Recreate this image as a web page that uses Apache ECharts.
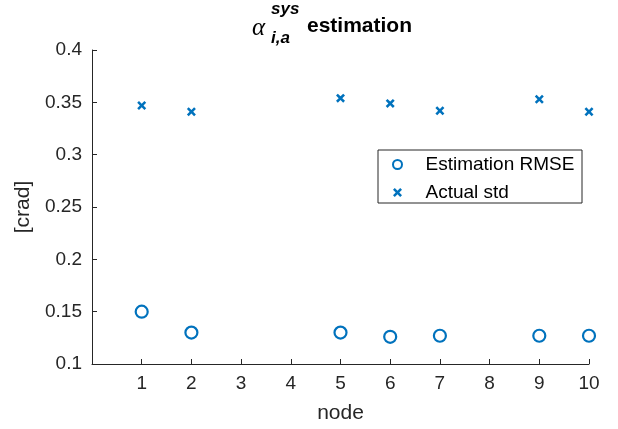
<!DOCTYPE html>
<html>
<head>
<meta charset="utf-8">
<script src="https://cdn.jsdelivr.net/npm/echarts@6/dist/echarts.min.js"></script>
<style>html,body{margin:0;padding:0;background:#fff}#c{width:618px;height:429px}</style>
</head>
<body>
<div id="c"></div>
<script>
const nodes = [1, 2, 5, 6, 7, 9, 10];
const rmse = [0.150, 0.130, 0.130, 0.126, 0.127, 0.127, 0.127];
const actualStd = [0.347, 0.341, 0.354, 0.349, 0.342, 0.353, 0.341];
const seriesNames = ['Estimation RMSE', 'Actual std'];
const xLabel = 'node';
const yLabel = '[crad]';

const FONT = "'Liberation Sans', Arial, Helvetica, sans-serif";
const TXT = '#262626';
const BLUE = '#0072BD';
const crossPath = 'path://M0,2 L2,0 L5,3 L8,0 L10,2 L7,5 L10,8 L8,10 L5,7 L2,10 L0,8 L3,5 Z';

const chart = echarts.init(document.getElementById('c'), null, {renderer: 'canvas'});
chart.setOption({
  backgroundColor: '#fff',
  animation: false,
  grid: {left: 92, right: 29, top: 50, bottom: 65, containLabel: false},
  xAxis: {
    type: 'value', min: 0, max: 10, interval: 1,
    name: xLabel, nameLocation: 'middle', nameGap: 39,
    nameTextStyle: {color: TXT, fontSize: 21, fontFamily: FONT},
    axisLine: {show: true, lineStyle: {color: TXT, width: 1}},
    axisTick: {show: true, inside: true, length: 5, lineStyle: {color: TXT}},
    axisLabel: {color: TXT, fontSize: 19, fontFamily: FONT, margin: 10,
      formatter: v => (v === 0 ? '' : String(v))},
    splitLine: {show: false}
  },
  yAxis: {
    type: 'value', min: 0.1, max: 0.4, interval: 0.05,
    name: yLabel, nameLocation: 'middle', nameGap: 52,
    nameTextStyle: {color: TXT, fontSize: 21, fontFamily: FONT},
    axisLine: {show: true, lineStyle: {color: TXT, width: 1}},
    axisTick: {show: true, inside: true, length: 5, lineStyle: {color: TXT}},
    axisLabel: {color: TXT, fontSize: 19, fontFamily: FONT, margin: 10,
      formatter: v => String(parseFloat(v.toFixed(2)))},
    splitLine: {show: false}
  },
  legend: {
    orient: 'vertical', left: 392, top: 155, padding: 0,
    itemWidth: 46, itemHeight: 9, itemGap: 9,
    textStyle: {color: '#000', fontSize: 19, fontFamily: FONT, lineHeight: 18},
    data: seriesNames
  },
  graphic: [
    {type: 'rect', shape: {x: 378, y: 150, width: 204, height: 53}, style: {fill: 'none', stroke: TXT, lineWidth: 1}, z: 100, silent: true},
    {type: 'text', left: 252, top: 16, style: {text: 'α', font: "italic 25px 'Liberation Serif', 'DejaVu Serif', serif", fill: '#000'}},
    {type: 'text', left: 271, top: 1, style: {text: 'sys', font: "italic bold 17px " + FONT, fill: '#000'}},
    {type: 'text', left: 271, top: 30, style: {text: 'i,a', font: "italic bold 17px " + FONT, fill: '#000'}},
    {type: 'text', left: 307, top: 16, style: {text: 'estimation', font: "bold 21px " + FONT, fill: '#000'}}
  ],
  series: [
    {
      name: seriesNames[0], type: 'scatter', symbol: 'circle', symbolSize: 12,
      itemStyle: {color: 'rgba(255,255,255,0)', borderColor: BLUE, borderWidth: 2.2, opacity: 1},
      data: nodes.map((n, i) => [n, rmse[i]])
    },
    {
      name: seriesNames[1], type: 'scatter', symbol: crossPath, symbolSize: 9,
      itemStyle: {color: BLUE, opacity: 1},
      data: nodes.map((n, i) => [n, actualStd[i]])
    }
  ]
});
</script>
</body>
</html>
